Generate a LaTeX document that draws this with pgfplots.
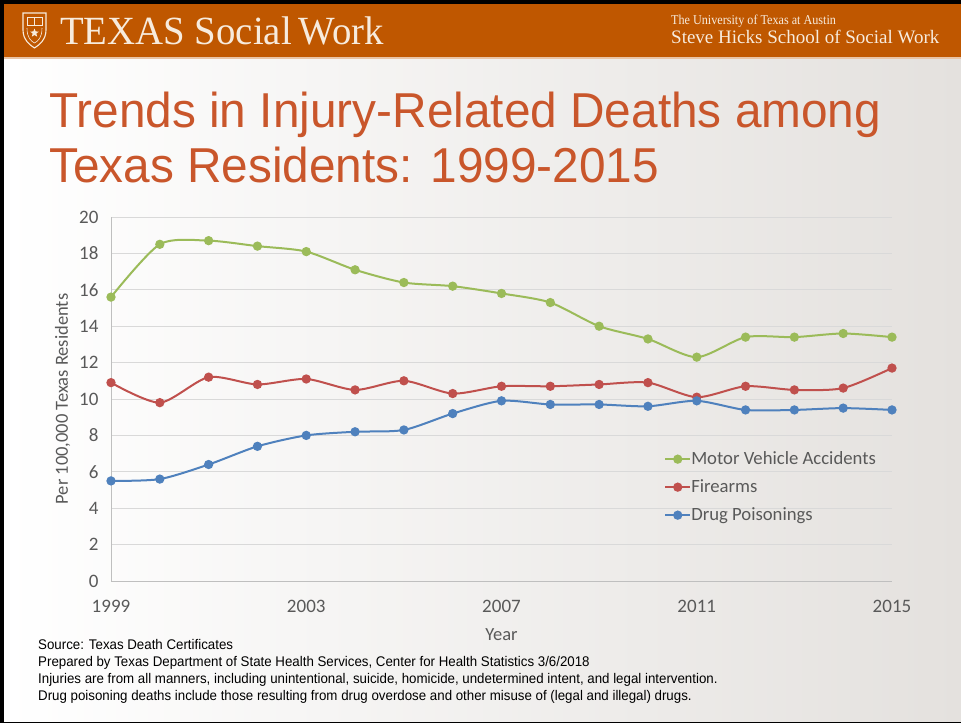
\documentclass[border=0pt]{standalone}
\usepackage{fontspec}
\usepackage{pgfplots}
\pgfplotsset{compat=1.18}
\usetikzlibrary{shapes.geometric}

\setmainfont{Carlito}
\newfontfamily\titlefont[FakeStretch=0.975]{Liberation Sans}
\newfontfamily\notefont[FakeStretch=0.95]{Liberation Sans}
\newfontfamily\brandfont[FakeStretch=0.97]{Liberation Serif}
\newfontfamily\univfont[FakeStretch=0.9]{Liberation Serif}
\newfontfamily\schoolfont{Liberation Serif}

\definecolor{utorange}{HTML}{BF5700}
\definecolor{titleorange}{HTML}{C9562B}
\definecolor{cream}{HTML}{F7EBDD}
\definecolor{bgright}{HTML}{E4E1DE}
\definecolor{mvgreen}{HTML}{9BBB59}
\definecolor{firered}{HTML}{C0504D}
\definecolor{drugblue}{HTML}{4F81BD}
\definecolor{labelgray}{HTML}{595959}
\definecolor{gridgray}{HTML}{D9D9D9}
\definecolor{axisline}{HTML}{BFBFBF}

% Age-adjusted rates per 100,000 Texas residents
\pgfplotstableread{
year  motor  firearms  drugs
1999  15.6   10.9      5.5
2000  18.5    9.8      5.6
2001  18.7   11.2      6.4
2002  18.4   10.8      7.4
2003  18.1   11.1      8.0
2004  17.1   10.5      8.2
2005  16.4   11.0      8.3
2006  16.2   10.3      9.2
2007  15.8   10.7      9.9
2008  15.3   10.7      9.7
2009  14.0   10.8      9.7
2010  13.3   10.9      9.6
2011  12.3   10.1      9.9
2012  13.4   10.7      9.4
2013  13.4   10.5      9.4
2014  13.6   10.6      9.5
2015  13.4   11.7      9.4
}\injurydata

\begin{document}
\begin{tikzpicture}[x=1pt,y=-1pt]
% slide frame and background
\fill[black] (0,0) rectangle (961,723);
\shade[left color=white, right color=bgright] (4,4) rectangle (961,721);

% header bar
\fill[utorange] (4,4) rectangle (961,57);
\fill[utorange!35!white] (4,57) rectangle (961,59);

% shield emblem
\draw[cream, line width=1.1pt]
  (23,13) -- (46,13) -- (46,30)
  .. controls (46,40) and (39,45) .. (34.5,48)
  .. controls (30,45) and (23,40) .. (23,30) -- cycle;
\draw[cream, line width=0.7pt] (27,17) rectangle (42,25);
\draw[cream, line width=0.6pt] (34.5,17) -- (34.5,25);
\node[star, star points=5, star point ratio=2.3, fill=cream, inner sep=0pt, minimum size=9pt] at (34.5,33) {};
\draw[cream, line width=0.6pt] (27,28) .. controls (27,38) and (31,41) .. (34.5,43)
  .. controls (38,41) and (42,38) .. (42,28);

\node[anchor=base west, text=cream, inner sep=0pt] at (60,44)
  {\brandfont\fontsize{40}{40}\selectfont TEXAS Social\,Work};
\node[anchor=base west, text=cream, inner sep=0pt] at (671,24)
  {\univfont\fontsize{13.5}{13.5}\selectfont The University of Texas at Austin};
\node[anchor=base west, text=cream, inner sep=0pt] at (671,43)
  {\schoolfont\fontsize{19}{19}\selectfont Steve Hicks School of Social Work};

% slide title
\node[anchor=base west, text=titleorange, inner sep=0pt] at (49,127)
  {\titlefont\fontsize{49}{49}\selectfont Trends in Injury-Related Deaths among};
\node[anchor=base west, text=titleorange, inner sep=0pt] at (49,182)
  {\titlefont\fontsize{49}{49}\selectfont Texas Residents: 1999-2015};

% the chart
\begin{axis}[
  at={(111pt,-581pt)}, anchor=south west,
  scale only axis, width=781pt, height=364pt,
  xmin=1999, xmax=2015, ymin=0, ymax=20,
  xtick={1999,2003,2007,2011,2015},
  ytick={0,2,...,20},
  xticklabel style={/pgf/number format/1000 sep={}},
  /pgf/number format/assume math mode=true,
  tick label style={font=\fontsize{19}{19}\selectfont, text=labelgray},
  yticklabel style={xshift=-9pt},
  xticklabel style={yshift=-16pt},
  major tick length=0pt,
  ymajorgrids, grid style={gridgray, line width=0.8pt},
  axis x line*=bottom, axis y line*=left,
  axis line style={axisline, line width=0.9pt, -},
  xlabel={Year}, ylabel={Per 100,000 Texas Residents},
  label style={font=\fontsize{18.5}{18.5}\selectfont, text=labelgray},
  xlabel style={yshift=-9pt},
  ylabel style={yshift=2pt},
  every axis plot/.append style={smooth, tension=0.45, line width=2pt,
    mark=*, mark size=3.6pt},
  legend style={at={(axis cs:2010.33,7.2)}, anchor=north west,
    draw=none, fill=none, font=\fontsize{18.7}{18.7}\selectfont,
    text=labelgray, row sep=10pt, inner sep=0pt,
    nodes={inner sep=0pt, text height=14pt, text depth=4pt}},
  legend cell align=left,
  legend image code/.code={
    \draw[#1, line width=2pt] (0pt,0pt) -- (25pt,0pt);
    \fill[#1] (12.5pt,0pt) circle (3.6pt);},
]
\addplot[mvgreen] table[x=year, y=motor] {\injurydata};
\addlegendentry{Motor Vehicle Accidents}
\addplot[firered] table[x=year, y=firearms] {\injurydata};
\addlegendentry{Firearms}
\addplot[drugblue] table[x=year, y=drugs] {\injurydata};
\addlegendentry{Drug Poisonings}
\end{axis}

% notes under the chart
\begin{scope}[every node/.style={anchor=base west, inner sep=0pt, text=black,
    font=\notefont\fontsize{14}{14}\selectfont}]
\node at (38,649) {Source: Texas Death Certificates};
\node at (38,666) {Prepared by Texas Department of State Health Services, Center for Health Statistics 3/6/2018};
\node at (38,683) {Injuries are from all manners, including unintentional, suicide, homicide, undetermined intent, and legal intervention.};
\node at (38,700) {Drug poisoning deaths include those resulting from drug overdose and other misuse of (legal and illegal) drugs.};
\end{scope}
\end{tikzpicture}
\end{document}
